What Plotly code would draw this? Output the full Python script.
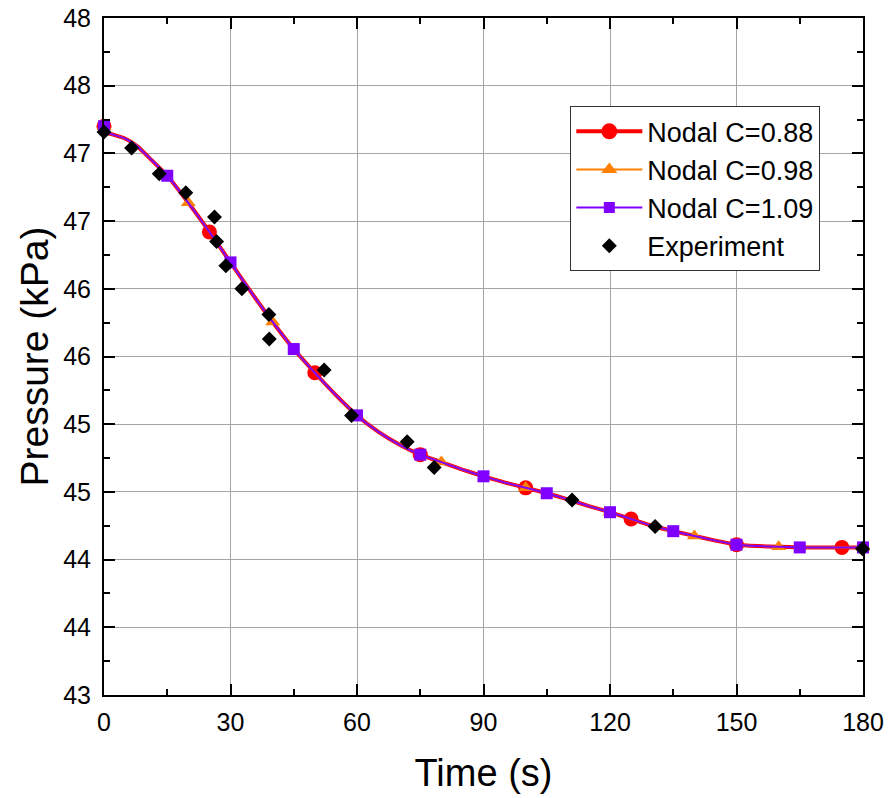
import plotly.graph_objects as go

# ---------------- data ----------------
time_model = [0, 1, 2, 5, 8, 10, 15, 20, 25, 30, 35, 40, 45, 50, 55, 60, 65, 70, 75, 80, 85,
              90, 95, 100, 105, 110, 115, 120, 125, 130, 135, 140, 145, 150, 155, 160, 165,
              170, 175, 180]
p_c088 = [47.20, 47.15, 47.14, 47.11, 47.05, 46.99, 46.835, 46.635, 46.42, 46.195, 45.97,
          45.755, 45.555, 45.38, 45.215, 45.065, 44.945, 44.85, 44.775, 44.72, 44.665,
          44.615, 44.57, 44.53, 44.49, 44.445, 44.395, 44.35, 44.30, 44.25, 44.21, 44.175,
          44.14, 44.11, 44.10, 44.095, 44.09, 44.09, 44.09, 44.09]
p_c098 = [47.20, 47.15, 47.14, 47.11, 47.05, 46.99, 46.835, 46.635, 46.42, 46.195, 45.97,
          45.755, 45.555, 45.38, 45.215, 45.065, 44.945, 44.85, 44.775, 44.72, 44.665,
          44.615, 44.57, 44.53, 44.49, 44.445, 44.395, 44.35, 44.30, 44.25, 44.21, 44.175,
          44.14, 44.11, 44.10, 44.095, 44.09, 44.09, 44.09, 44.09]
p_c109 = [47.20, 47.15, 47.14, 47.11, 47.05, 46.99, 46.835, 46.635, 46.42, 46.195, 45.97,
          45.755, 45.555, 45.38, 45.215, 45.065, 44.945, 44.85, 44.775, 44.72, 44.665,
          44.615, 44.57, 44.53, 44.49, 44.445, 44.395, 44.35, 44.30, 44.25, 44.21, 44.175,
          44.14, 44.11, 44.10, 44.095, 44.09, 44.09, 44.09, 44.09]

# output interval (s) at which each model series is marked
marker_step_c088 = 25
marker_step_c098 = 20
marker_step_c109 = 15

time_exp = [0, 6.55, 13.1, 19.4, 26.2, 26.7, 28.9, 32.7, 39.1, 39.2, 52.2, 58.7, 71.9,
            78.3, 111.0, 130.7, 179.9]
p_exp = [47.158, 47.04, 46.85, 46.71, 46.53, 46.35, 46.17, 46.0, 45.81, 45.63, 45.40,
         45.065, 44.87, 44.68, 44.44, 44.245, 44.08]

series_names = ["Nodal C=0.88", "Nodal C=0.98", "Nodal C=1.09", "Experiment"]

x_tick_vals = [0, 30, 60, 90, 120, 150, 180]
x_tick_text = ["0", "30", "60", "90", "120", "150", "180"]
y_tick_vals = [43, 43.5, 44, 44.5, 45, 45.5, 46, 46.5, 47, 47.5, 48]
y_tick_text = ["43", "44", "44", "45", "45", "46", "46", "47", "47", "48", "48"]

x_title = "Time (s)"
y_title = "Pressure (kPa)"

# ---------------- figure ----------------
FONT = "Arial, 'Liberation Sans', sans-serif"
RED = "#FF0000"
ORANGE = "#FF8000"
PURPLE = "#8000FF"

fig = go.Figure()

series = [
    (series_names[0], p_c088, marker_step_c088, RED, 4, "circle", 15, 16),
    (series_names[1], p_c098, marker_step_c098, ORANGE, 2, "triangle-up", 13, 14),
    (series_names[2], p_c109, marker_step_c109, PURPLE, 2, "square", 12, 11),
]

# legend proxies (first, so they define legend order)
for name, p, step, col, lw, sym, ms, lms in series:
    fig.add_trace(go.Scatter(
        x=[None], y=[None], mode="lines+markers", name=name,
        line=dict(color=col, width=lw),
        marker=dict(symbol=sym, size=lms, color=col),
        legendgroup=name, showlegend=True))

for name, p, step, col, lw, sym, ms, lms in series:
    fig.add_trace(go.Scatter(
        x=time_model, y=p, mode="lines", name=name,
        line=dict(color=col, width=lw, shape="spline", smoothing=0.5),
        legendgroup=name, showlegend=False, cliponaxis=False, hoverinfo="skip"))
    mx = [t for t in time_model if t % step == 0]
    my = [v for t, v in zip(time_model, p) if t % step == 0]
    fig.add_trace(go.Scatter(
        x=mx, y=my, mode="markers", name=name,
        marker=dict(symbol=sym, size=ms, color=col, line=dict(width=0)),
        legendgroup=name, showlegend=False, cliponaxis=False))

fig.add_trace(go.Scatter(
    x=time_exp, y=p_exp, mode="markers", name=series_names[3],
    marker=dict(symbol="diamond", size=11.5, color="black", line=dict(width=0)),
    cliponaxis=False, showlegend=True))

axis_common = dict(
    showline=True, linecolor="black", linewidth=2, mirror="ticks",
    ticks="inside", ticklen=11, tickwidth=2, tickcolor="black",
    showgrid=True, gridcolor="#A5A5A5", gridwidth=1.3,
    zeroline=False,
    tickfont=dict(family=FONT, size=25, color="black"),
)

fig.update_xaxes(
    range=[0, 180], tickmode="array", tickvals=x_tick_vals, ticktext=x_tick_text,
    minor=dict(dtick=15, tick0=0, ticks="inside", ticklen=6, tickwidth=2,
               tickcolor="black", showgrid=False),
    title=dict(text=x_title, font=dict(family=FONT, size=38, color="black"), standoff=24),
    ticklabelstandoff=4,
    **axis_common)

fig.update_yaxes(
    range=[43, 48], tickmode="array", tickvals=y_tick_vals, ticktext=y_tick_text,
    minor=dict(dtick=0.25, tick0=43, ticks="inside", ticklen=6, tickwidth=2,
               tickcolor="black", showgrid=False),
    title=dict(text=y_title, font=dict(family=FONT, size=39, color="black"), standoff=3),
    ticklabelstandoff=6,
    **axis_common)

fig.update_layout(
    width=889, height=798,
    margin=dict(l=104, r=26, t=18, b=103, autoexpand=False),
    paper_bgcolor="white", plot_bgcolor="white",
    font=dict(family=FONT, color="black"),
    legend=dict(
        x=0.614, y=0.870, xanchor="left", yanchor="top",
        bgcolor="white", bordercolor="#333333", borderwidth=1.3,
        font=dict(family=FONT, size=27, color="black"),
        itemsizing="trace", tracegroupgap=0, itemwidth=66,
    ),
    showlegend=True,
)

fig.write_html(
    "out.html",
    config={"displayModeBar": False},
    post_script="document.body.style.margin='0';document.body.style.overflow='hidden';",
)
